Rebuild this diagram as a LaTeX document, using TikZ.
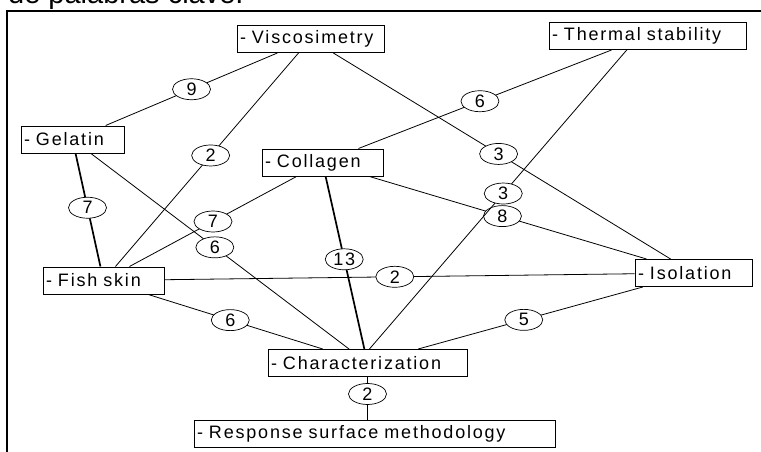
\documentclass[tikz,border=0pt]{standalone}
\usepackage{fontspec}
\usetikzlibrary{shapes.geometric}
\newfontfamily\kwfont[LetterSpace=10]{Liberation Sans}
\newfontfamily\headfont{Liberation Sans}

\begin{document}
\begin{tikzpicture}[
    x=1pt, y=-1pt,
    every node/.style={font=\kwfont\fontsize{18}{20}\selectfont},
    keyword/.style={rectangle, draw, line width=1pt, fill=white, minimum height=27pt, inner xsep=3pt, inner ysep=0pt, align=left, text width=#1},
    weight/.style={ellipse, draw, fill=white, line width=0.7pt, minimum width=38pt, minimum height=21pt, inner sep=0pt},
    link/.style={draw, line width=0.8pt},
    heavylink/.style={draw, line width=1.7pt}
]
\useasboundingbox (0,0) rectangle (761,452);
\clip (0,0) rectangle (761,452);

% cut-off caption and window frame
\node[anchor=base west, inner sep=0pt, font=\headfont\fontsize{29}{32}\selectfont] (caption) at (8,4) {de palabras clave:};
\draw[line width=2pt] (7,452) -- (7,11) -- (761,11);

% keywords
\node[keyword=141pt] (visco) at (310.5,39) {- Viscosimetry};
\node[keyword=191pt] (thermal) at (647.5,36) {- Thermal stability};
\node[keyword=97pt] (gelatin) at (72.5,139.5) {- Gelatin};
\node[keyword=115pt] (collagen) at (322.5,162.5) {- Collagen};
\node[keyword=115pt] (fish) at (103.5,280.5) {- Fish skin};
\node[keyword=111pt] (isolation) at (693.5,273) {- Isolation};
\node[keyword=193pt] (charac) at (367.5,363) {- Characterization};
\node[keyword=355pt] (rsm) at (374.5,433.5) {- Response surface methodology};

% co-occurrence links
\draw[link] (visco) -- node[weight] {9} (gelatin);
\draw[link] (visco) -- node[weight, pos=0.48] {2} (fish);
\draw[link] (visco) -- node[weight, pos=0.49] {3} (isolation);
\draw[link] (thermal) -- node[weight, pos=0.52] {6} (collagen);
\draw[heavylink] (gelatin) -- node[weight, pos=0.48] {7} (fish);
\draw[link] (gelatin) -- node[weight, pos=0.48] {6} (charac);
\draw[link] (collagen) -- node[weight] {7} (fish);
\draw[heavylink] (collagen) -- node[weight, pos=0.48] {13} (charac);
\draw[link] (collagen) -- node[weight, pos=0.48] {8} (isolation);
\draw[link] (fish) -- node[weight, pos=0.49] {2} (isolation);
\draw[link] (fish) -- node[weight, pos=0.47] {6} (charac);
\draw[link] (isolation) -- node[weight, pos=0.53] {5} (charac);
\draw[link] (charac.south) -- node[weight, pos=0.4] {2} (rsm.north -| charac.south);
\draw[link] (thermal.214) -- node[weight, pos=0.48] {3} (charac.82);

\end{tikzpicture}
\end{document}
